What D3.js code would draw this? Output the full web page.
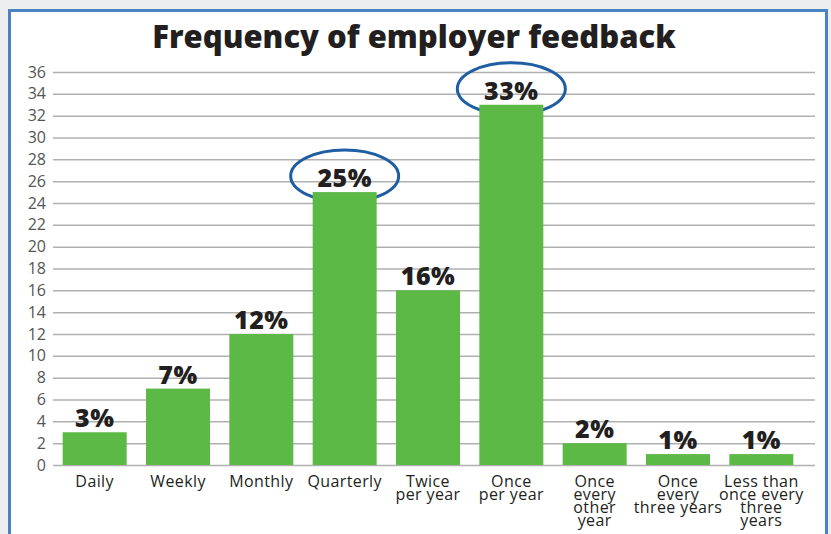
<!DOCTYPE html>
<html>
<head>
<meta charset="utf-8">
<script src="https://cdn.jsdelivr.net/npm/d3@7"></script>
<style>
  body { margin: 0; background: #eceef0; }
  #chart { width: 831px; height: 534px; }
  text { font-family: "Open Sans", "Noto Sans", sans-serif; }
</style>
</head>
<body>
<div id="chart"></div>
<script>
// data
var categories = ["Daily", "Weekly", "Monthly", "Quarterly", "Twice per year", "Once per year",
                  "Once every other year", "Once every three years", "Less than once every three years"];
var labelLines = [["Daily"], ["Weekly"], ["Monthly"], ["Quarterly"], ["Twice", "per year"], ["Once", "per year"],
                  ["Once", "every", "other", "year"], ["Once", "every", "three years"], ["Less than", "once every", "three", "years"]];
var values = [3, 7, 12, 25, 16, 33, 2, 1, 1];
var yTicks = d3.range(0, 37, 2);
var highlighted = ["Quarterly", "Once per year"];

var width = 831, height = 534;
var margin = {top: 72, right: 16, bottom: 69, left: 53};

var svg = d3.select("#chart")
  .append("svg")
    .attr("width", width)
    .attr("height", height);

// panel with blue frame
svg.append("rect")
  .attr("x", 9.5).attr("y", 10.5)
  .attr("width", 817).attr("height", 540)
  .attr("fill", "#ffffff")
  .attr("stroke", "#4a83bf")
  .attr("stroke-width", 3);

var x = d3.scaleBand()
  .domain(categories)
  .range([margin.left, 803])
  .paddingInner(0.232)
  .paddingOuter(0.116);

var y = d3.scaleLinear()
  .domain([0, 36])
  .range([height - margin.bottom, margin.top]);

// gridlines + y labels
var yAxis = svg.append("g")
  .attr("transform", "translate(" + margin.left + ",0)")
  .call(d3.axisLeft(y).tickValues(yTicks).tickSize(-(width - margin.right - margin.left)).tickPadding(7));
yAxis.select(".domain").remove();
yAxis.selectAll(".tick line").attr("stroke", "#b0b0b0").attr("stroke-width", 1.5);
yAxis.selectAll(".tick text")
  .attr("fill", "#555")
  .style("font-size", "16px");

// ellipses behind highlighted bars
svg.selectAll(".ring")
  .data(categories.filter(function(c) { return highlighted.indexOf(c) >= 0; }))
  .enter()
  .append("ellipse")
    .attr("cx", function(d) { return x(d) + x.bandwidth() / 2; })
    .attr("cy", function(d) { return y(values[categories.indexOf(d)]) - 16; })
    .attr("rx", 54)
    .attr("ry", 26)
    .attr("fill", "none")
    .attr("stroke", "#1f5ea3")
    .attr("stroke-width", 3);

// bars
svg.selectAll(".bar")
  .data(values)
  .enter()
  .append("rect")
    .attr("x", function(d, i) { return x(categories[i]); })
    .attr("y", function(d) { return y(d); })
    .attr("width", x.bandwidth())
    .attr("height", function(d) { return y(0) - y(d); })
    .attr("fill", "#5cb946");

// value labels
svg.selectAll(".val")
  .data(values)
  .enter()
  .append("text")
    .attr("x", function(d, i) { return x(categories[i]) + x.bandwidth() / 2; })
    .attr("y", function(d) { return y(d) - 5; })
    .attr("text-anchor", "middle")
    .attr("fill", "#231f20")
    .style("font-size", "25px")
    .style("font-weight", 800)
    .style("letter-spacing", "0.5px")
    .text(function(d) { return d + "%"; });

// category labels
var cat = svg.selectAll(".cat")
  .data(labelLines)
  .enter()
  .append("text")
    .attr("text-anchor", "middle")
    .attr("fill", "#231f20")
    .style("font-size", "16px")
    .style("letter-spacing", "0.4px")
    .attr("transform", function(d, i) {
      return "translate(" + (x(categories[i]) + x.bandwidth() / 2) + "," + (y(0) + 22) + ")";
    });
cat.selectAll("tspan")
  .data(function(d) { return d; })
  .enter()
  .append("tspan")
    .attr("x", 0)
    .attr("y", function(d, i) { return i * 13; })
    .text(function(d) { return d; });

// title
svg.append("text")
  .attr("x", 414)
  .attr("y", 48)
  .attr("text-anchor", "middle")
  .attr("fill", "#231f20")
  .style("font-size", "31px")
  .style("font-weight", 800)
  .text("Frequency of employer feedback");
</script>
</body>
</html>
